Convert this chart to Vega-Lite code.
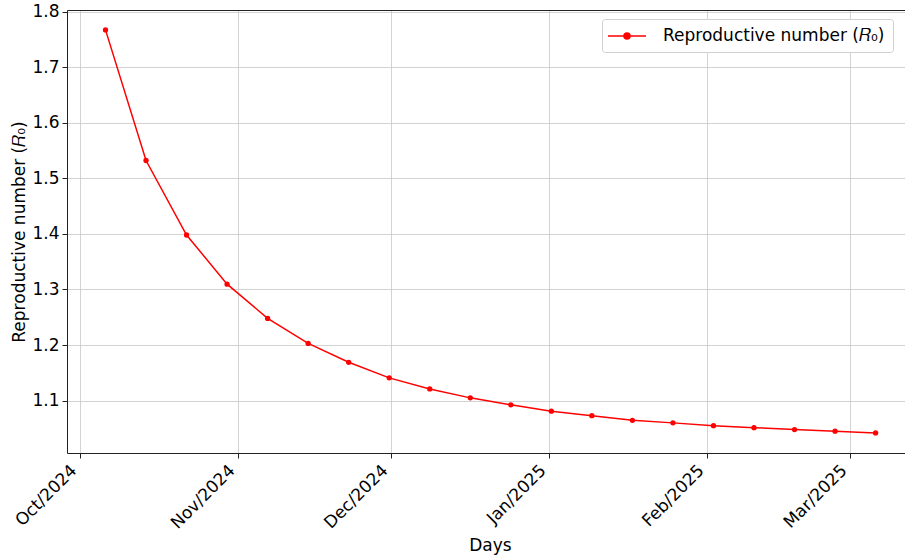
{
  "$schema": "https://vega.github.io/schema/vega-lite/v6.json",
  "width": 838,
  "height": 443,
  "autosize": "none",
  "padding": {"left": 67, "top": 10, "right": 0, "bottom": 104},
  "background": "white",
  "config": {
    "font": "DejaVu Sans",
    "view": {"stroke": null},
    "axis": {
      "labelFontSize": 17,
      "titleFontSize": 17,
      "titleFontWeight": "normal",
      "labelColor": "#000000",
      "titleColor": "#000000",
      "domainColor": "#222222",
      "tickColor": "#222222",
      "tickSize": 5,
      "gridColor": "#c8c8c8",
      "gridWidth": 0.8,
      "labelPadding": 3
    }
  },
  "data": {
    "values": [
      {"date": "2024-10-06T00:00", "r": 1.767, "series": "Reproductive number (𝑅₀)"},
      {"date": "2024-10-13T22:44", "r": 1.532, "series": "Reproductive number (𝑅₀)"},
      {"date": "2024-10-21T21:27", "r": 1.398, "series": "Reproductive number (𝑅₀)"},
      {"date": "2024-10-29T20:11", "r": 1.3095, "series": "Reproductive number (𝑅₀)"},
      {"date": "2024-11-06T18:55", "r": 1.248, "series": "Reproductive number (𝑅₀)"},
      {"date": "2024-11-14T17:38", "r": 1.203, "series": "Reproductive number (𝑅₀)"},
      {"date": "2024-11-22T16:22", "r": 1.169, "series": "Reproductive number (𝑅₀)"},
      {"date": "2024-11-30T15:06", "r": 1.141, "series": "Reproductive number (𝑅₀)"},
      {"date": "2024-12-08T13:49", "r": 1.121, "series": "Reproductive number (𝑅₀)"},
      {"date": "2024-12-16T12:33", "r": 1.105, "series": "Reproductive number (𝑅₀)"},
      {"date": "2024-12-24T11:17", "r": 1.0925, "series": "Reproductive number (𝑅₀)"},
      {"date": "2025-01-01T10:00", "r": 1.081, "series": "Reproductive number (𝑅₀)"},
      {"date": "2025-01-09T08:44", "r": 1.073, "series": "Reproductive number (𝑅₀)"},
      {"date": "2025-01-17T07:28", "r": 1.0646, "series": "Reproductive number (𝑅₀)"},
      {"date": "2025-01-25T06:12", "r": 1.06, "series": "Reproductive number (𝑅₀)"},
      {"date": "2025-02-02T04:55", "r": 1.055, "series": "Reproductive number (𝑅₀)"},
      {"date": "2025-02-10T03:39", "r": 1.0514, "series": "Reproductive number (𝑅₀)"},
      {"date": "2025-02-18T02:23", "r": 1.048, "series": "Reproductive number (𝑅₀)"},
      {"date": "2025-02-26T01:06", "r": 1.045, "series": "Reproductive number (𝑅₀)"},
      {"date": "2025-03-05T23:50", "r": 1.042, "series": "Reproductive number (𝑅₀)"}
    ]
  },
  "layer": [
    {
      "mark": {
        "type": "line",
        "strokeWidth": 1.5,
        "point": {"filled": true, "size": 28}
      },
      "encoding": {
        "x": {
          "field": "date",
          "type": "temporal",
          "scale": {
            "domain": [
              {"year": 2024, "month": 9, "date": 28, "hours": 10, "minutes": 48},
              {"year": 2025, "month": 3, "date": 11, "hours": 18, "minutes": 14}
            ]
          },
          "axis": {
            "title": "Days",
            "format": "%b/%Y",
            "tickCount": {"interval": "month", "step": 1},
            "labelAngle": -45,
            "labelAlign": "right",
            "labelBaseline": "bottom",
            "labelPadding": 16,
            "titlePadding": 6,
            "grid": true,
            "titleX": 423
          }
        },
        "y": {
          "field": "r",
          "type": "quantitative",
          "scale": {"domain": [1.0058, 1.8028], "zero": false, "nice": false},
          "axis": {
            "title": "Reproductive number (𝑅₀)",
            "values": [1.1, 1.2, 1.3, 1.4, 1.5, 1.6, 1.7, 1.8],
            "format": ".1f",
            "titlePadding": 3,
            "grid": true
          }
        },
        "color": {
          "field": "series",
          "type": "nominal",
          "scale": {"range": ["#ff0000"]},
          "legend": {
            "title": null,
            "orient": "none",
            "legendX": 535,
            "legendY": 9,
            "symbolType": "M-1.375,0H3.375M0.625,0A0.375,0.375 0 1,0 1.375,0A0.375,0.375 0 1,0 0.625,0Z",
            "symbolSize": 256,
            "symbolStrokeWidth": 1.5,
            "symbolFillColor": "#ff0000",
            "symbolStrokeColor": "#ff0000",
            "labelFontSize": 17,
            "labelLimit": 400,
            "labelColor": "#000000",
            "labelOffset": 35,
            "padding": 8,
            "strokeColor": "#d0d0d0",
            "cornerRadius": 3,
            "fillColor": "#ffffff"
          }
        }
      }
    },
    {
      "mark": {"type": "point", "opacity": 0},
      "encoding": {
        "x": {
          "field": "date",
          "type": "temporal",
          "axis": {
            "orient": "top",
            "labels": false,
            "ticks": false,
            "grid": false,
            "title": null,
            "domain": true
          }
        },
        "y": {"field": "r", "type": "quantitative"}
      }
    }
  ],
  "resolve": {"axis": {"x": "independent"}}
}
